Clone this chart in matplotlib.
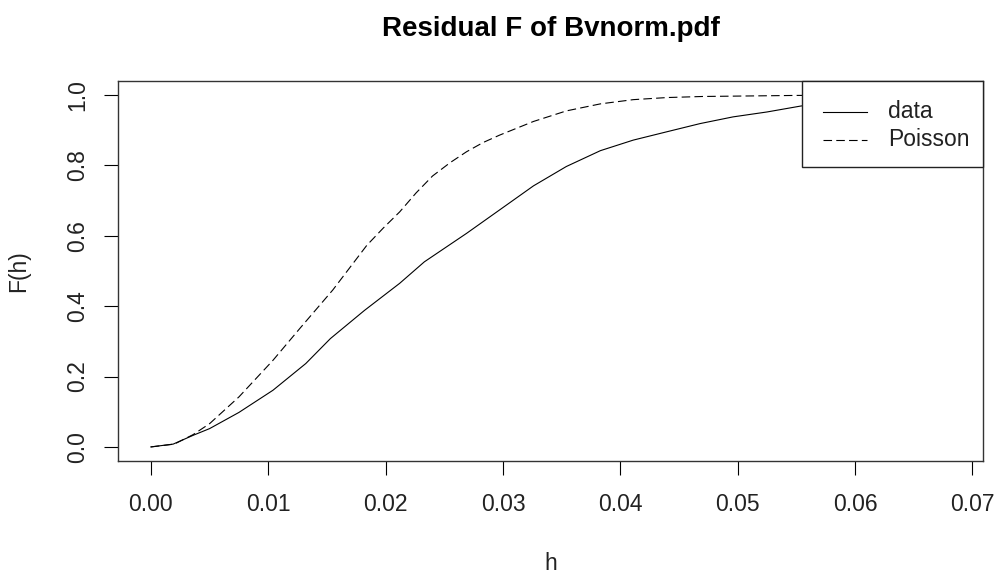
import matplotlib
matplotlib.use("Agg")
import matplotlib.pyplot as plt
from matplotlib.patches import Rectangle
from matplotlib.lines import Line2D

plt.rcParams["font.family"] = ["Liberation Sans", "DejaVu Sans"]

# empirical F(h) for the residual pattern
h_data = [0.0, 0.0019, 0.0036, 0.0050, 0.0075, 0.0104, 0.0132, 0.0153,
          0.0182, 0.0212, 0.0233, 0.0269, 0.0299, 0.0326, 0.0354, 0.0383,
          0.0411, 0.0440, 0.0468, 0.0496, 0.0525, 0.0554, 0.0600, 0.0650,
          0.0700]
F_data = [0.000, 0.008, 0.033, 0.052, 0.098, 0.161, 0.237, 0.308,
          0.388, 0.465, 0.526, 0.607, 0.678, 0.742, 0.797, 0.842,
          0.872, 0.896, 0.919, 0.938, 0.952, 0.969, 0.980, 0.990,
          0.995]

# theoretical F(h) under complete spatial randomness
h_pois = [0.0, 0.0020, 0.0036, 0.0050, 0.0075, 0.0104, 0.0127, 0.0155,
          0.0184, 0.0198, 0.0212, 0.0226, 0.0240, 0.0255, 0.0269, 0.0283,
          0.0297, 0.0326, 0.0354, 0.0383, 0.0411, 0.0440, 0.0470, 0.0550,
          0.0700]
F_pois = [0.000, 0.008, 0.035, 0.066, 0.142, 0.246, 0.337, 0.446,
          0.573, 0.622, 0.668, 0.722, 0.770, 0.808, 0.839, 0.865,
          0.886, 0.925, 0.955, 0.975, 0.987, 0.993, 0.996, 0.999,
          1.000]

x_ticks = [0.00, 0.01, 0.02, 0.03, 0.04, 0.05, 0.06, 0.07]
y_ticks = [0.0, 0.2, 0.4, 0.6, 0.8, 1.0]
legend_labels = ["data", "Poisson"]

W, H = 998, 576
fig = plt.figure(figsize=(W / 100, H / 100), dpi=100)

# plot region in pixels: left 118, right 983, top 81, bottom 461
ax = fig.add_axes([118 / W, (H - 461) / H, 865 / W, 380 / H])

dash = (7.7, 3.8)
ax.plot(h_data, F_data, color="black", lw=0.8)
ax.plot(h_pois, F_pois, color="black", lw=0.8, dashes=dash)

ax.set_xlim(-0.0028, 0.0709)
ax.set_ylim(-0.04, 1.04)

ax.set_xticks(x_ticks)
ax.set_xticklabels([f"{v:.2f}" for v in x_ticks])
ax.set_yticks(y_ticks)
ax.set_yticklabels([f"{v:.1f}" for v in y_ticks], rotation=90, va="center")

ax.tick_params(axis="both", length=10, width=0.8, labelsize=16.5,
               color="black", labelcolor="#222222")
ax.tick_params(axis="x", pad=13)
ax.tick_params(axis="y", pad=11)
for s in ax.spines.values():
    s.set_linewidth(1.0)
    s.set_color("#333333")

# R-style legend box in the top right corner
lx0, ly0 = (802 - 118) / 865, (461 - 167) / 380
ax.add_patch(Rectangle((lx0, ly0), 1 - lx0, 1 - ly0, transform=ax.transAxes,
                       facecolor="white", edgecolor="#222222", lw=1.0,
                       zorder=5, clip_on=False))
x1, x2, xt = (823 - 118) / 865, (867 - 118) / 865, (888 - 118) / 865
rows = [(461 - 112) / 380, (461 - 140) / 380]
styles = [dict(), dict(dashes=dash)]
for lab, yy, st in zip(legend_labels, rows, styles):
    ax.add_line(Line2D([x1, x2], [yy, yy], transform=ax.transAxes,
                       color="black", lw=0.8, zorder=6, **st))
    ax.text(xt, yy, lab, transform=ax.transAxes, fontsize=16.5,
            ha="left", va="center", color="#222222", zorder=6)

fig.text(550.5 / W, 1 - 29 / H, "Residual F of Bvnorm.pdf", fontsize=20,
         fontweight="bold", ha="center", va="center")
fig.text(550.5 / W, 1 - 563 / H, "h", fontsize=16.5, ha="center",
         va="center", color="#222222")
fig.text(19 / W, 1 - 271 / H, "F(h)", fontsize=16.5, ha="center",
         va="center", rotation=90, color="#222222")

fig.savefig("out.png", dpi=100)
